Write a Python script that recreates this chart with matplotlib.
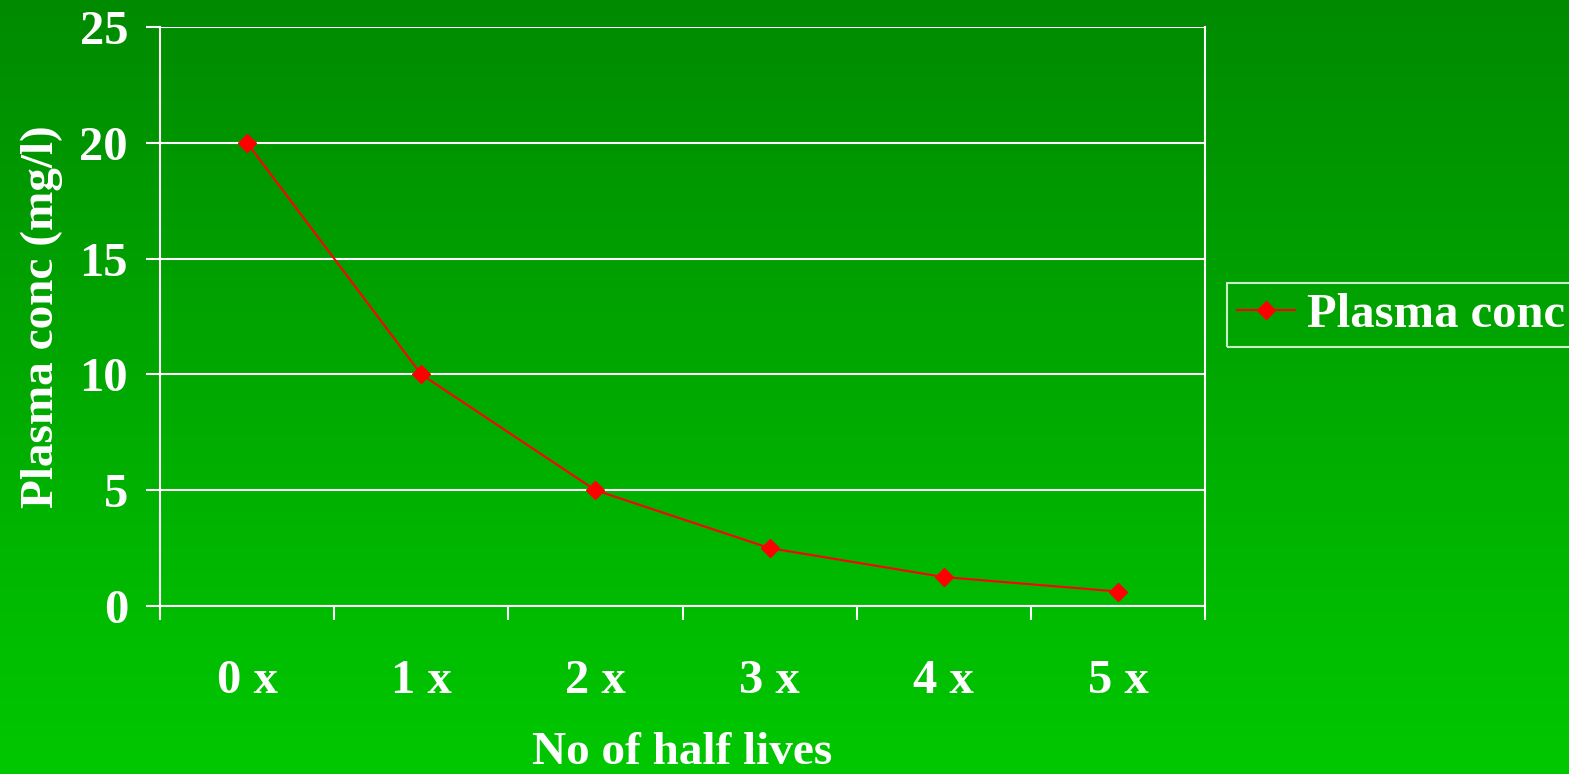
import numpy as np
import matplotlib.pyplot as plt
from matplotlib.colors import LinearSegmentedColormap

# --- Data ---
half_lives = ['0 x', '1 x', '2 x', '3 x', '4 x', '5 x']
plasma_conc = [20, 10, 5, 2.5, 1.25, 0.625]
y_ticks = [0, 5, 10, 15, 20, 25]

plt.rcParams['font.family'] = ['Liberation Serif', 'DejaVu Serif']
plt.rcParams['font.weight'] = 'bold'
plt.rcParams['axes.labelweight'] = 'bold'
FS = 35

fig = plt.figure(figsize=(15.69, 7.74), dpi=100)

# --- Green gradient background ---
bg = fig.add_axes([0, 0, 1, 1], zorder=-10)
grad = np.linspace(0, 1, 256).reshape(-1, 1)
cmap = LinearSegmentedColormap.from_list('bg', ['#008a00', '#00c800'])
bg.imshow(grad, aspect='auto', cmap=cmap, extent=[0, 1, 0, 1], origin='upper')
bg.axis('off')

# --- Plot area ---
ax = fig.add_axes([160 / 1569, 1 - 606 / 774, (1205 - 160) / 1569, (606 - 27) / 774])
ax.set_facecolor('none')
x = np.arange(len(half_lives))
line, = ax.plot(x, plasma_conc, color='#ff0000', lw=1.5, marker='D', ms=9,
                markeredgecolor='#ff0000', label='Plasma conc', zorder=5, clip_on=False)

ax.set_xlim(-0.5, len(half_lives) - 0.5)
ax.set_ylim(0, 25)
ax.set_yticks(y_ticks)
ax.yaxis.grid(True, color='white', lw=1.5)
ax.set_axisbelow(True)

for side in ['left', 'bottom', 'right']:
    ax.spines[side].set_color('white')
    ax.spines[side].set_linewidth(1.5)
ax.spines['top'].set_visible(False)

ax.set_xticks(x)
ax.set_xticklabels(half_lives)
ax.set_xticks(np.arange(-0.5, len(half_lives)), minor=True)
ax.tick_params(axis='x', which='major', length=0, pad=38, labelsize=FS, colors='white')
ax.tick_params(axis='x', which='minor', length=10, width=1.5, color='white')
ax.tick_params(axis='y', length=10, width=1.5, color='white', labelcolor='white',
               labelsize=FS, pad=13)

ax.set_xlabel('No of half lives', fontsize=34, color='white', fontweight='bold', labelpad=21)
ax.set_ylabel('Plasma conc (mg/l)', fontsize=34, color='white', fontweight='bold', labelpad=12)

leg = fig.legend(handles=[line], loc='center left', bbox_to_anchor=(1227 / 1569, 1 - 315 / 774),
                 fontsize=FS, frameon=True, fancybox=False, handlelength=1.2,
                 handletextpad=0.25, borderpad=0.2, borderaxespad=0, labelcolor='white')
leg.get_frame().set_facecolor('none')
leg.get_frame().set_edgecolor('white')
leg.get_frame().set_linewidth(1.5)

fig.savefig('out.png', dpi=100)
